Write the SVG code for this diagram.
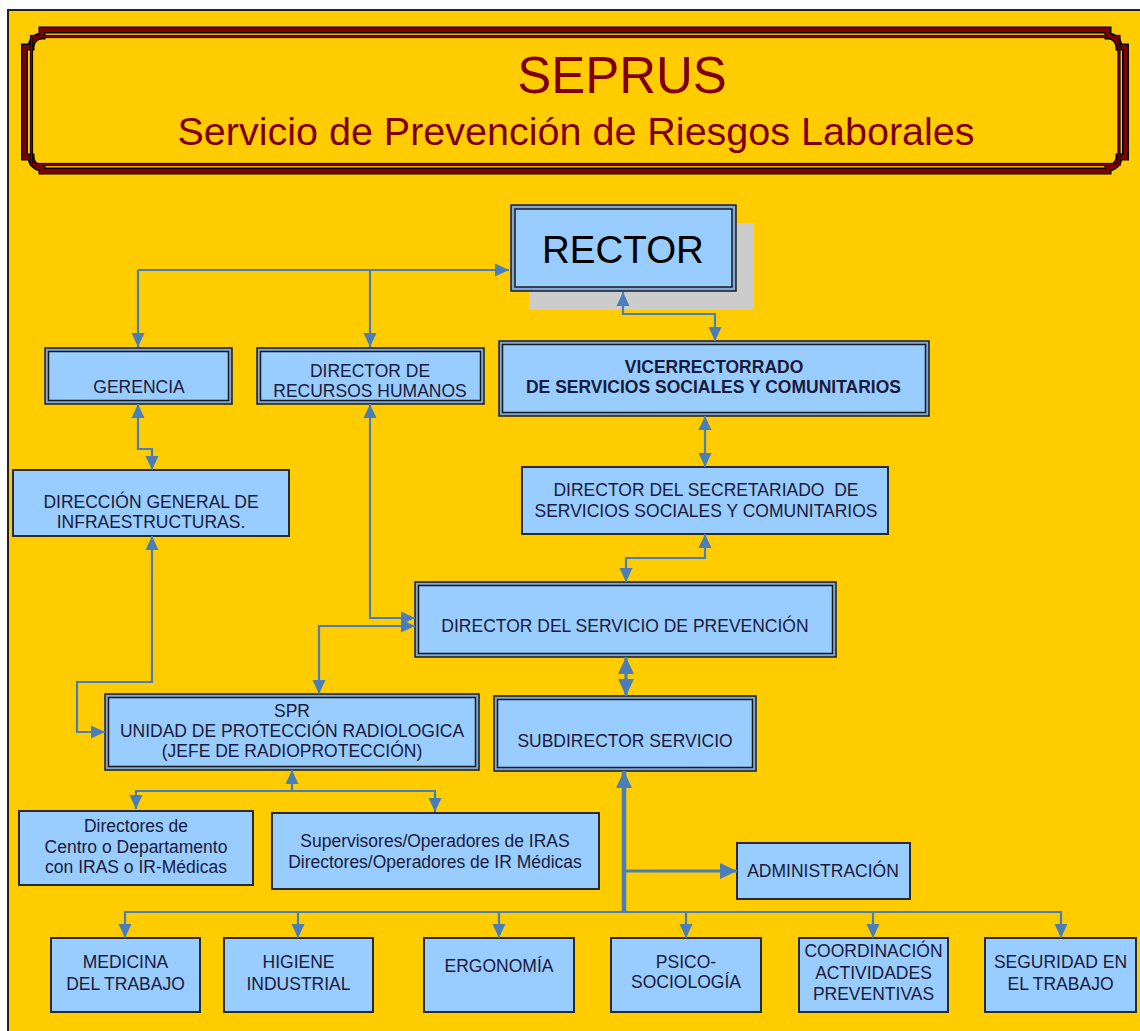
<svg xmlns="http://www.w3.org/2000/svg" width="1140" height="1031" viewBox="0 0 1140 1031">
<defs>
<style>
.t{font-family:"Liberation Sans",Arial,sans-serif;font-size:17.5px;fill:#1a1a3a;text-anchor:middle;white-space:pre}
.b{font-weight:bold}
.big{font-size:38.5px;fill:#000000}
.ttl{font-family:"Liberation Sans",Arial,sans-serif;fill:#800000;text-anchor:middle}
.dbo{fill:#80A8DA;stroke:#1a1a1a;stroke-width:1.5}
.dbi{fill:#99CCFF;stroke:#1a1a1a;stroke-width:1.5}
.sb{fill:#99CCFF;stroke:#2a2a2a;stroke-width:2}
.c{fill:none;stroke:#4A7EBB;stroke-width:2.2}
.c3{fill:none;stroke:#4A7EBB;stroke-width:3.2}
.c4{fill:none;stroke:#4A7EBB;stroke-width:4.5}
</style>
<marker id="a" markerUnits="userSpaceOnUse" markerWidth="14" markerHeight="14" refX="14" refY="7" orient="auto-start-reverse" viewBox="0 0 14 14">
<path d="M0,0.5 L14,7 L0,13.5 z" fill="#4A7EBB"/>
</marker>
<marker id="A" markerUnits="userSpaceOnUse" markerWidth="17" markerHeight="17" refX="17" refY="8.5" orient="auto-start-reverse" viewBox="0 0 17 17">
<path d="M0,0.5 L17,8.5 L0,16.5 z" fill="#4A7EBB"/>
</marker>
</defs>
<rect x="0" y="0" width="1140" height="1031" fill="#ffffff"/>
<rect x="8" y="10" width="1140" height="1030" fill="#FFCC00" stroke="#222222" stroke-width="2"/>

<g id="title">
<path d="M24.5,47 H31 A11,11 0 0 1 42,36 V30 H1108 V36 A11,11 0 0 1 1119,47 H1125.5 V157 H1119 A11,11 0 0 1 1108,168 V171 H42 V168 A11,11 0 0 1 31,157 H24.5 Z" fill="none" stroke="#000" stroke-width="7"/>
<path d="M24.5,47 H31 A11,11 0 0 1 42,36 V30 H1108 V36 A11,11 0 0 1 1119,47 H1125.5 V157 H1119 A11,11 0 0 1 1108,168 V171 H42 V168 A11,11 0 0 1 31,157 H24.5 Z" fill="none" stroke="#800000" stroke-width="4"/>
<rect x="31.5" y="36.5" width="1087.5" height="128" fill="none" stroke="#000" stroke-width="3.2"/>
<rect x="31.5" y="36.5" width="1087.5" height="128" fill="none" stroke="#800000" stroke-width="1.4"/>
<text class="ttl" x="622" y="93" font-size="51">SEPRUS</text>
<text class="ttl" x="576" y="145" font-size="39.5">Servicio de Prevención de Riesgos Laborales</text>
</g>

<g id="rector">
<rect x="529" y="223" width="225" height="87" fill="#CCCCCC"/>
<rect class="dbo" x="511" y="205" width="225" height="86"/>
<rect class="dbi" x="515" y="209" width="217" height="78"/>
<text class="t big" x="623" y="263">RECTOR</text>
</g>

<g id="gerencia">
<rect class="dbo" x="45" y="348" width="187" height="56"/>
<rect class="dbi" x="48.5" y="351.5" width="180" height="49"/>
<text class="t" x="139" y="393">GERENCIA</text>
</g>

<g id="rrhh">
<rect class="dbo" x="257" y="348" width="227" height="56"/>
<rect class="dbi" x="260.5" y="351.5" width="220" height="49"/>
<text class="t" x="370" y="377">DIRECTOR DE</text>
<text class="t" x="370" y="397">RECURSOS HUMANOS</text>
</g>

<g id="vicerrectorado">
<rect class="dbo" x="499" y="341" width="430" height="75"/>
<rect class="dbi" x="502.5" y="344.5" width="423" height="68"/>
<text class="t b" x="714" y="373">VICERRECTORRADO</text>
<text class="t b" x="713.5" y="393">DE SERVICIOS SOCIALES Y COMUNITARIOS</text>
</g>

<g id="secretariado">
<rect class="sb" x="522" y="467" width="366" height="67"/>
<text class="t" x="706" y="496">DIRECTOR DEL SECRETARIADO  DE</text>
<text class="t" x="706" y="517">SERVICIOS SOCIALES Y COMUNITARIOS</text>
</g>

<g id="infraestructuras">
<rect class="sb" x="13" y="470" width="276" height="66"/>
<text class="t" x="151" y="508">DIRECCIÓN GENERAL DE</text>
<text class="t" x="151" y="528">INFRAESTRUCTURAS.</text>
</g>

<g id="director-prevencion">
<rect class="dbo" x="415" y="582" width="421" height="75"/>
<rect class="dbi" x="418.5" y="585.5" width="414" height="68"/>
<text class="t" x="625" y="632">DIRECTOR DEL SERVICIO DE PREVENCIÓN</text>
</g>

<g id="spr">
<rect class="dbo" x="105" y="694" width="374" height="76"/>
<rect class="dbi" x="108.5" y="697.5" width="367" height="69"/>
<text class="t" x="292" y="717">SPR</text>
<text class="t" x="292" y="737">UNIDAD DE PROTECCIÓN RADIOLOGICA</text>
<text class="t" x="292" y="757">(JEFE DE RADIOPROTECCIÓN)</text>
</g>

<g id="subdirector">
<rect class="dbo" x="494" y="696" width="262" height="75"/>
<rect class="dbi" x="497.5" y="699.5" width="255" height="68"/>
<text class="t" x="625" y="747">SUBDIRECTOR SERVICIO</text>
</g>

<g id="directores-centro">
<rect class="sb" x="19" y="811" width="234" height="74"/>
<text class="t" x="136" y="832">Directores de</text>
<text class="t" x="136" y="853">Centro o Departamento</text>
<text class="t" x="136" y="873">con IRAS o IR-Médicas</text>
</g>

<g id="supervisores">
<rect class="sb" x="272" y="813" width="327" height="76"/>
<text class="t" x="435" y="847">Supervisores/Operadores de IRAS</text>
<text class="t" x="435" y="868">Directores/Operadores de IR Médicas</text>
</g>

<g id="administracion">
<rect class="sb" x="737" y="843" width="173" height="56"/>
<text class="t" x="823" y="877">ADMINISTRACIÓN</text>
</g>

<g id="medicina">
<rect class="sb" x="51" y="938" width="149" height="74"/>
<text class="t" x="125.5" y="968">MEDICINA</text>
<text class="t" x="125.5" y="990">DEL TRABAJO</text>
</g>

<g id="higiene">
<rect class="sb" x="224" y="938" width="149" height="74"/>
<text class="t" x="298.5" y="968">HIGIENE</text>
<text class="t" x="298.5" y="990">INDUSTRIAL</text>
</g>

<g id="ergonomia">
<rect class="sb" x="424" y="938" width="150" height="74"/>
<text class="t" x="499" y="972">ERGONOMÍA</text>
</g>

<g id="psicosociologia">
<rect class="sb" x="611" y="938" width="150" height="74"/>
<text class="t" x="686" y="968">PSICO-</text>
<text class="t" x="686" y="988">SOCIOLOGÍA</text>
</g>

<g id="coordinacion">
<rect class="sb" x="799" y="938" width="149" height="74"/>
<text class="t" x="873.5" y="957">COORDINACIÓN</text>
<text class="t" x="873.5" y="979">ACTIVIDADES</text>
<text class="t" x="873.5" y="1000">PREVENTIVAS</text>
</g>

<g id="seguridad">
<rect class="sb" x="985" y="938" width="151" height="74"/>
<text class="t" x="1060.5" y="968">SEGURIDAD EN</text>
<text class="t" x="1060.5" y="990">EL TRABAJO</text>
</g>

<g id="connectors">
<path class="c" d="M138,270 H509" marker-end="url(#a)"/>
<path class="c" d="M138,270 V347" marker-end="url(#a)"/>
<path class="c" d="M370,270 V347" marker-end="url(#a)"/>
<path class="c" d="M623,292 V314 H715 V341" marker-start="url(#a)" marker-end="url(#a)"/>
<path class="c" d="M138,404 V449 H152 V470" marker-start="url(#a)" marker-end="url(#a)"/>
<path class="c" d="M370,404 V618 H415" marker-start="url(#a)" marker-end="url(#a)"/>
<path class="c" d="M705,416 V467" marker-start="url(#a)" marker-end="url(#a)"/>
<path class="c" d="M705,534 V558 H626 V582" marker-start="url(#a)" marker-end="url(#a)"/>
<path class="c" d="M415,626 H319 V694" marker-start="url(#a)" marker-end="url(#a)"/>
<path class="c" d="M152,536 V682 H77 V732 H105" marker-start="url(#a)" marker-end="url(#a)"/>
<path class="c3" d="M626,657 V696" marker-start="url(#A)" marker-end="url(#A)"/>
<path class="c" d="M292,770 V791" marker-start="url(#a)"/>
<path class="c" d="M136,809 V791 H435 V812" marker-start="url(#a)" marker-end="url(#a)"/>
<path class="c4" d="M624,771 V912" marker-start="url(#A)"/>
<path class="c3" d="M624,871 H737" marker-end="url(#A)"/>
<path class="c" d="M125,912 H1061" stroke-width="2.6"/>
<path class="c" d="M125,911 V938" marker-end="url(#a)"/>
<path class="c" d="M298,912 V938" marker-end="url(#a)"/>
<path class="c" d="M499,912 V938" marker-end="url(#a)"/>
<path class="c" d="M686,912 V938" marker-end="url(#a)"/>
<path class="c" d="M873,912 V938" marker-end="url(#a)"/>
<path class="c" d="M1061,911 V938" marker-end="url(#a)"/>
</g>
</svg>
